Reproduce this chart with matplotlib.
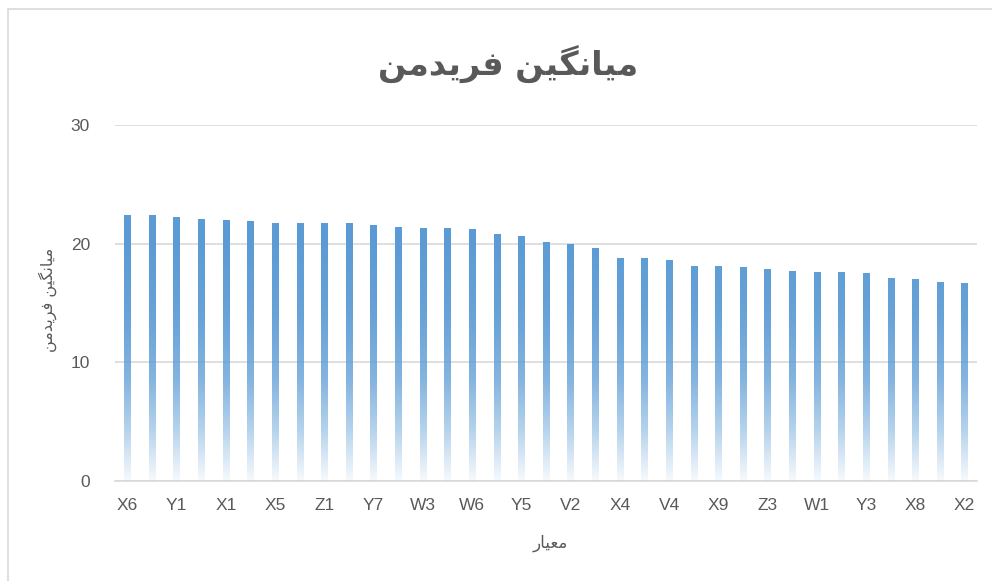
import numpy as np
import matplotlib
matplotlib.use("Agg")
import matplotlib.pyplot as plt
from matplotlib.patches import Rectangle

# criteria (odd positions are hidden in the original axis, names guessed)
criteria = ["X6", "X3", "Y1", "X7", "X1", "Y2", "X5", "Y4", "Z1", "Y6",
            "Y7", "W2", "W3", "W4", "W6", "W5", "Y5", "V1", "V2", "V3",
            "X4", "V5", "V4", "Z2", "X9", "Z4", "Z3", "X10", "W1", "Y8",
            "Y3", "W7", "X8", "V6", "X2"]
friedman_mean = [22.42, 22.42, 22.25, 22.16, 22.08, 21.91, 21.74, 21.74, 21.74, 21.74,
                 21.66, 21.49, 21.32, 21.32, 21.24, 20.81, 20.65, 20.14, 20.06, 19.63,
                 18.88, 18.88, 18.62, 18.12, 18.12, 18.03, 17.95, 17.70, 17.61, 17.61,
                 17.53, 17.19, 17.02, 16.85, 16.77]
y_ticks = [0, 10, 20, 30]

# Persian text written with presentation forms in visual order (no shaping in matplotlib)
title_txt = "\uFEE6\uFEE3\uFEAA\uFBFE\uFEAE\uFED3 \uFEE6\uFBFF\uFB95\uFEE7\uFE8E\uFBFF\uFEE3"
xlabel_txt = "\uFEAD\uFE8E\uFBFF\uFECC\uFEE3"
ylabel_txt = title_txt

grey = "#595959"
blue = np.array([91, 155, 213]) / 255.0
tick_font = ["Liberation Sans Narrow", "Liberation Sans", "DejaVu Sans"]

fig = plt.figure(figsize=(9.92, 5.81), dpi=100)
ax = fig.add_axes([115 / 992, 1 - 481 / 581, 862 / 992, 356 / 581])

x = np.arange(len(criteria))
bars = ax.bar(x, friedman_mean, width=0.26, color="none", zorder=3)

# vertical gradient: solid blue at the top fading to white at the bottom
ys = np.linspace(0, 30, 300)
alpha = np.interp(ys, [0, 0.3, 4.3, 8.5, 14, 20], [0.05, 0.08, 0.45, 0.75, 0.93, 1.0])
grad = np.zeros((len(ys), 1, 4))
grad[:, 0, :3] = blue
grad[:, 0, 3] = alpha
for b in bars:
    h = b.get_height()
    n = max(2, int(len(ys) * h / 30))
    ax.imshow(grad[:n][::-1], extent=[b.get_x(), b.get_x() + b.get_width(), 0, ys[n - 1]],
              aspect="auto", interpolation="bilinear", zorder=3)

ax.set_xlim(-0.5, len(criteria) - 0.5)
ax.set_ylim(0, 30)
ax.set_yticks(y_ticks)
ax.set_xticks(x[::2], criteria[::2])
ax.yaxis.grid(True, color="#D9D9D9", lw=1.2, zorder=0)
ax.set_axisbelow(True)
for s in ["top", "right", "left"]:
    ax.spines[s].set_visible(False)
ax.spines["bottom"].set_color("#D9D9D9")
ax.spines["bottom"].set_linewidth(1.2)
ax.tick_params(length=0, colors=grey, labelsize=12.5, pad=12)
ax.tick_params(axis="y", pad=18)
for lab in ax.get_xticklabels() + ax.get_yticklabels():
    lab.set_family(tick_font)

fig.text(508 / 992, 1 - 64 / 581, title_txt, ha="center", va="center", fontsize=24,
         fontweight="bold", color=grey, family=["DejaVu Sans"])
fig.text(550 / 992, 1 - 543 / 581, xlabel_txt, ha="center", va="center", fontsize=12,
         color=grey, family=["DejaVu Sans"])
fig.text(48 / 992, 1 - 300 / 581, ylabel_txt, ha="center", va="center", fontsize=11.5,
         rotation=90, color=grey, family=["DejaVu Sans"])

# chart border (left and top edges visible)
fig.patches.append(Rectangle((8 / 992, -0.05), 1.1, 1 - 9 / 581 + 0.05,
                             transform=fig.transFigure, fill=False,
                             edgecolor="#D9D9D9", lw=1.2))

fig.savefig("out.png", dpi=100)
